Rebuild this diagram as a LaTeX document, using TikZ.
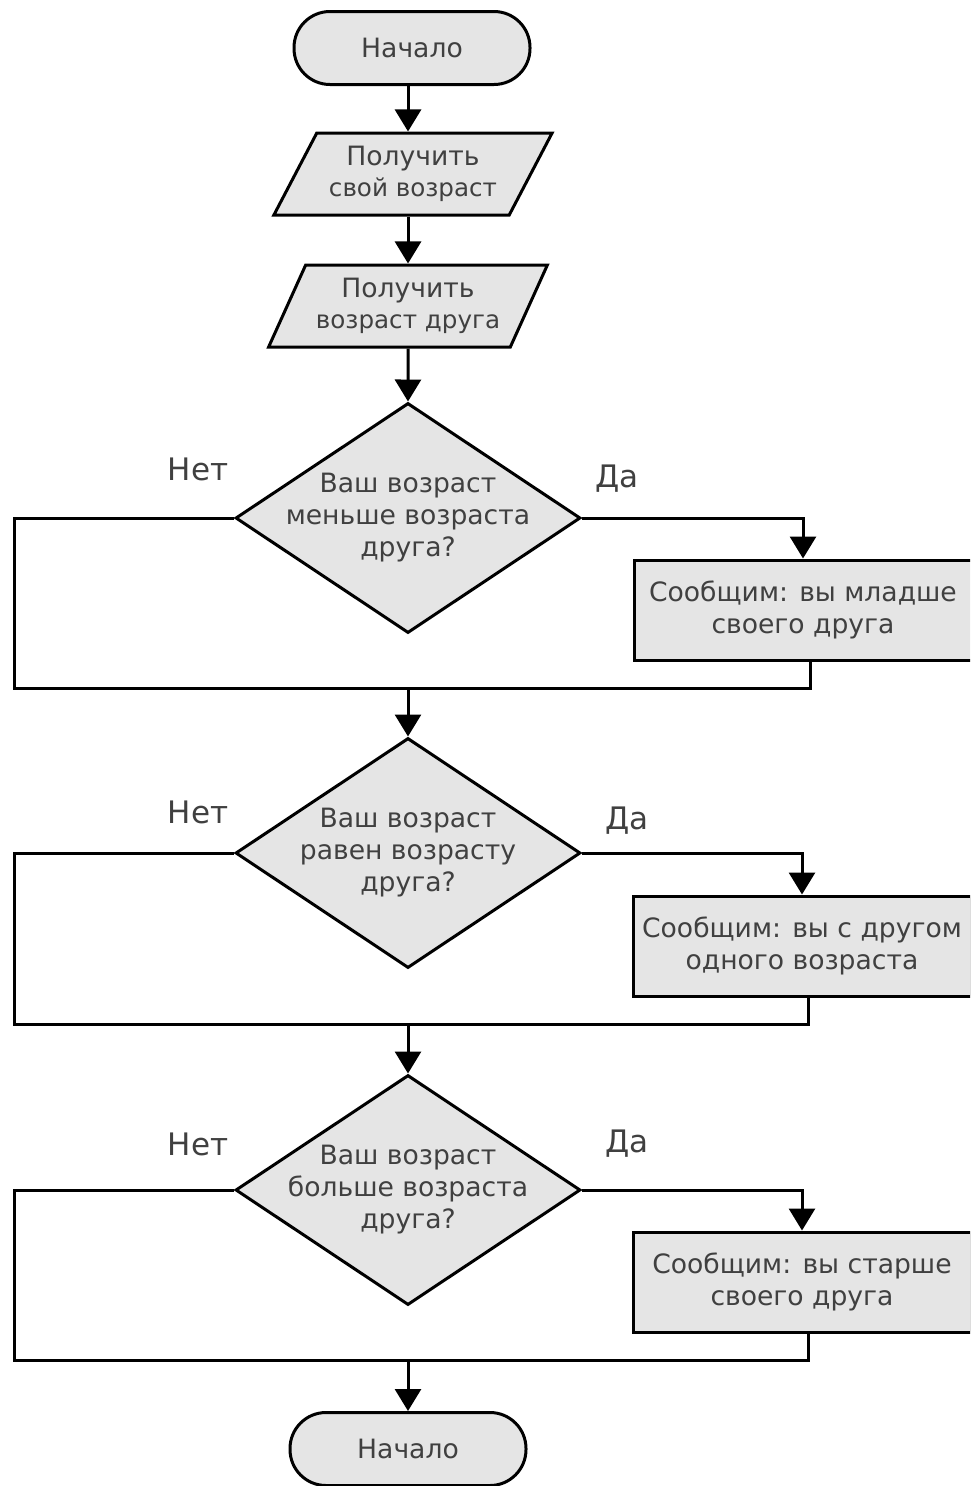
\documentclass[tikz,border=0pt]{standalone}
\usepackage{fontspec}
\setmainfont{DejaVu Sans}
\usetikzlibrary{positioning,arrows.meta,shapes.geometric}

\newcommand{\smalltext}{\fontsize{24.6}{32}\selectfont}

\begin{document}
\begin{tikzpicture}[x=1pt, y=-1pt, >={Triangle[length=22pt,width=26pt]},
  line width=3pt, font=\fontsize{26.6}{32}\selectfont, text=black!75,
  term/.style={draw, fill=black!10, rounded corners=36pt, minimum width=236pt, minimum height=73pt},
  io/.style={draw, fill=black!10, trapezium, trapezium left angle=59, trapezium right angle=121,
    trapezium stretches=true, minimum width=279pt, minimum height=82pt, inner sep=0pt, align=center},
  decision/.style={draw, fill=black!10, diamond, minimum width=345pt, minimum height=230pt,
    inner sep=-40pt, align=center},
  proc/.style={draw, fill=black!10, minimum width=338pt, minimum height=100pt, align=center},
  ans/.style={inner sep=0pt, font=\fontsize{31}{36}\selectfont}]
  \useasboundingbox (0,0) rectangle (970,1486);
  \clip (0,0) rectangle (970,1486);
  \node[term] (start) at (412,48) {Начало};
  \node[io, trapezium left angle=56, trapezium right angle=124] (in1) at (413,174)
    {Получить\\[-1pt]{\smalltext свой возраст}};
  \node[io] (in2) at (408,306) {Получить\\[-1pt]{\smalltext возраст друга}};
  \node[decision] (q1) at (408,518) {Ваш возраст\\меньше возраста\\друга?};
  \node[proc] (a1) at (803,610) {Сообщим: вы младше\\своего друга};
  \node[decision] (q2) at (408,853) {Ваш возраст\\равен возрасту\\друга?};
  \node[proc] (a2) at (802,946) {Сообщим: вы с другом\\одного возраста};
  \node[decision] (q3) at (408,1190) {Ваш возраст\\больше возраста\\друга?};
  \node[proc] (a3) at (802,1282) {Сообщим: вы старше\\своего друга};
  \node[term] (stop) at (408,1449) {Начало};
  \node[ans] (no1) at (198,469) {Нет};
  \node[ans] (yes1) at (617,479) {Да};
  \node[ans] (no2) at (198,812) {Нет};
  \node[ans] (yes2) at (627,821) {Да};
  \node[ans] (no3) at (198,1144) {Нет};
  \node[ans] (yes3) at (627,1144) {Да};
  \coordinate (l1) at (14,688);
  \coordinate (l2) at (14,1024);
  \coordinate (l3) at (14,1360);
  \draw[->] (in2.north |- start.south) -- (in2.north |- in1.north);
  \draw[->] (in2.north |- in1.south) -- (in2.north);
  \draw[->] (in2) -- (q1);
  \draw[->] (q1.east) -| (a1.north);
  \draw (q1.west) -| (l1) -| ([xshift=7pt]a1.south);
  \draw[->] (l1 -| q2.north) -- (q2.north);
  \draw[->] (q2.east) -| (a2.north);
  \draw (q2.west) -| (l2) -| ([xshift=6pt]a2.south);
  \draw[->] (l2 -| q3.north) -- (q3.north);
  \draw[->] (q3.east) -| (a3.north);
  \draw (q3.west) -| (l3) -| ([xshift=6pt]a3.south);
  \draw[->] (l3 -| stop.north) -- (stop.north);
\end{tikzpicture}
\end{document}
